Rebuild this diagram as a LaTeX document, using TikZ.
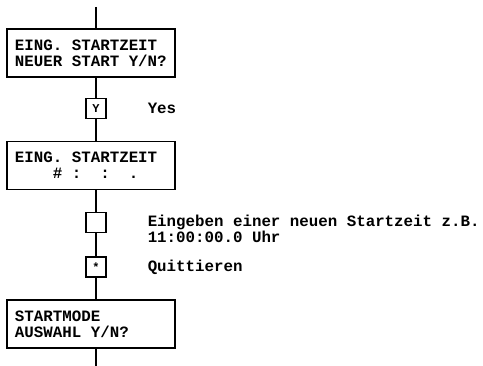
\documentclass[tikz,border=0pt]{standalone}
\usepackage{fontspec}
\setmonofont{Liberation Mono}
\usetikzlibrary{positioning}

\begin{document}
\begin{tikzpicture}[
    x=1pt, y=-1pt,
    node distance=8pt and 41pt,
    screen/.style={rectangle, draw, line width=1.6pt, align=flush left,
                   minimum width=168pt, minimum height=48pt, text width=152pt,
                   inner xsep=8pt, font=\ttfamily\bfseries\frenchspacing\fontsize{15.8}{16}\selectfont,
                   execute at begin node={\spaceskip=0pt\xspaceskip=0pt}},
    keybox/.style={rectangle, draw, line width=1.1pt, minimum size=20pt, inner sep=0pt,
                   font=\ttfamily\bfseries\fontsize{12}{12}\selectfont},
    note/.style={align=left, inner sep=0pt,
                 font=\ttfamily\bfseries\frenchspacing\fontsize{15.8}{13}\selectfont},
    flow/.style={line width=1.1pt},
  ]
    \useasboundingbox (0,0) rectangle (483,366);

    \node[screen] (neu) at (91,53) {EING. STARTZEIT\\NEUER START Y/N?};
    \node[keybox] (ykey) at (96,108.5) {Y};
    \node[note, right=of ykey] (yes) {Yes};
    \node[screen] (zeit) at (91,165.5) {EING. STARTZEIT\\~~~~\#~:~~:~~.};
    \node[keybox] (numkey) at (96,222.5) {};
    \node[note, right=of numkey, yshift=-6.5pt] (eingabe) {Eingeben einer neuen Startzeit z.B.\\11:00:00.0 Uhr};
    \node[keybox] (okkey) at (96,267) {*};
    \node[note, right=of okkey] (quit) {Quittieren};
    \node[screen] (mode) at (91,324) {STARTMODE\\AUSWAHL Y/N?};
    \coordinate (top) at (96,7);
    \coordinate (bottom) at (96,366);

    \draw[flow] (top) -- (top |- neu.north);
    \draw[flow] (ykey |- neu.south) -- (ykey);
    \draw[flow] (ykey) -- (ykey |- zeit.north);
    \draw[flow] (numkey |- zeit.south) -- (numkey);
    \draw[flow] (numkey) -- (okkey);
    \draw[flow] (okkey) -- (okkey |- mode.north);
    \draw[flow] (bottom |- mode.south) -- (bottom);
\end{tikzpicture}
\end{document}
